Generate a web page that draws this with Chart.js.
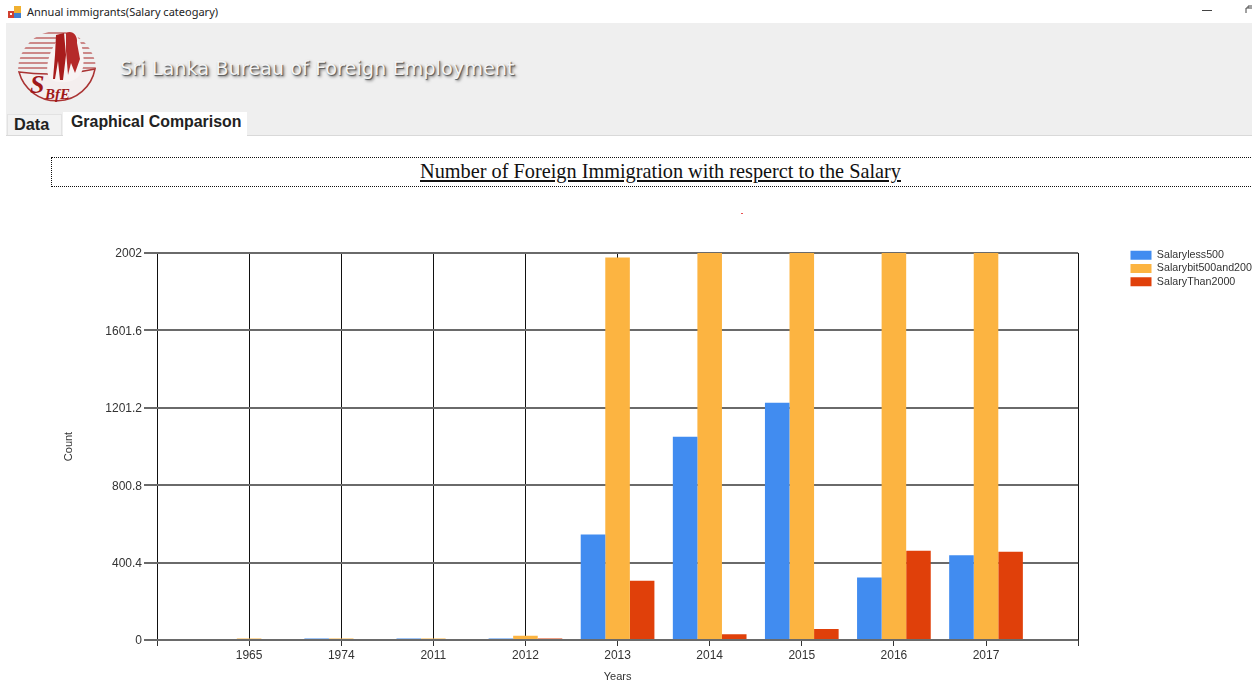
<!DOCTYPE html>
<html>
<head>
<meta charset="utf-8">
<title>Annual immigrants(Salary cateogary)</title>
<script src="https://cdn.jsdelivr.net/npm/chart.js@4/dist/chart.umd.min.js"></script>
<style>
html,body{margin:0;padding:0;background:#fff;overflow:hidden;width:1259px;height:686px}
#app{position:absolute;left:0;top:0;width:1252px;height:686px;overflow:hidden;background:#fff}
.abs{position:absolute;white-space:nowrap}
#band{left:6px;top:23px;width:1246px;height:112px;background:#efefef;border-bottom:1px solid #d9d9d9}
#appTitle{left:27px;top:4px;font:11px/16px "Noto Sans",sans-serif;color:#222}
#org{left:120px;top:56px;font:19.3px/26px "DejaVu Sans",sans-serif;color:#f4f4f4;text-shadow:1px 1px 1px #555,2px 2px 3px #777}
#tabData{left:7px;top:114px;width:55px;height:21px;background:#f2f2f2;border:1px solid #e2e2e2;border-bottom:none;box-sizing:border-box;font:bold 16.3px/18px "Liberation Sans",sans-serif;color:#222;padding-left:6px}
#tabGraph{left:63px;top:112px;width:184px;height:24px;background:#fff;font:bold 15.9px/20px "Liberation Sans",sans-serif;color:#222;padding-left:8px;box-sizing:border-box}
#heading{left:51px;top:157px;width:1210px;height:30px;box-sizing:border-box;border:1px dotted #111;text-align:center;font:20.3px/26px "Liberation Serif",serif;color:#111}
#heading span{text-decoration:underline;position:absolute;left:368px}
#reddot{left:741px;top:213px;width:2px;height:1px;background:#e85050}
#wrap{left:0;top:195px;width:1252px;height:491px}
</style>
</head>
<body>
<div id="app">
  <svg class="abs" style="left:8px;top:6px" width="13" height="13" viewBox="0 0 13 13">
    <rect x="0" y="5" width="6" height="7" fill="#d04030"/><rect x="6" y="0" width="7" height="7" fill="#f0b030"/><rect x="6" y="7" width="7" height="5" fill="#4080d0"/><rect x="2" y="7" width="2" height="2" fill="#fff"/>
  </svg>
  <div class="abs" id="appTitle">Annual immigrants(Salary cateogary)</div>
  <svg class="abs" style="left:1200px;top:4px" width="52" height="14" viewBox="0 0 52 14">
    <rect x="2" y="6" width="10" height="1" fill="#444"/>
    <path d="M46 9V4H52M48 4V2H52" fill="none" stroke="#444"/>
  </svg>
  <div class="abs" id="band"></div>
  <svg class="abs" style="left:14px;top:27px" width="88" height="86" viewBox="0 0 88 86">
    <defs><clipPath id="c"><circle cx="43" cy="43" r="39"/></clipPath></defs>
    <g clip-path="url(#c)" stroke="#c88" stroke-width="2">
      <path d="M0 6H88M0 11H88M0 16H88M0 21H88M0 26H88M0 31H88M0 36H88M0 41H88"/>
    </g>
    <path d="M5 45Q43 50 81 42A39 39 0 0 1 5 45Z" fill="#f4eeee" stroke="#a33" stroke-width="1.5"/>
    <path d="M44 12C34 26 30 44 36 52C46 58 64 56 68 44C72 32 68 12 60 6Z" fill="#f8f3f3"/>
    <path d="M42 8L50 6L52 28L49 53H46L44 34L41 52H39L41 28Z" fill="#a81c1c"/>
    <path d="M52 6C58 3 64 8 63 16L66 32L61 46L57 36L54 48L52 24Z" fill="#b52a2a"/>
    <text x="16" y="66" font-family="Liberation Serif,serif" font-style="italic" font-weight="bold" font-size="26" fill="#a01818">S</text>
    <text x="31" y="72" font-family="Liberation Serif,serif" font-style="italic" font-weight="bold" font-size="15" fill="#a01818">BfE</text>
  </svg>
  <div class="abs" id="org">Sri Lanka Bureau of Foreign Employment</div>
  <div class="abs" id="tabData">Data</div>
  <div class="abs" id="tabGraph">Graphical Comparison</div>
  <div class="abs" id="heading"><span>Number of Foreign Immigration with resperct to the Salary</span></div>
  <div class="abs" id="reddot"></div>
  <div class="abs" id="wrap"><canvas id="chart" width="1252" height="491"></canvas></div>
</div>
<script>
const years = ['1965','1974','2011','2012','2013','2014','2015','2016','2017'];
const salaryLess500 = [0,8,8,8,546,1051,1227,323,439];
const salaryBit500And2000 = [8,8,8,22,1979,2002,2002,2002,2002];
const salaryThan2000 = [0,0,0,8,307,30,57,462,457];
const yTicks = [0,400.4,800.8,1201.2,1601.6,2002];
const seriesNames = ['Salaryless500','Salarybit500and2000','SalaryThan2000'];
const seriesColors = ['#418cf0','#fcb441','#e0400a'];

const pad = a => [null, ...a, null];
const fontName = '"Liberation Sans", Arial, sans-serif';

const placeLegend = {
  id: 'placeLegend',
  afterLayout(chart) {
    const l = chart.legend;
    const w = l.width, h = l.height;
    l.left = 1128; l.right = l.left + w;
    l.top = 52.5; l.bottom = l.top + h;
  }
};

new Chart(document.getElementById('chart'), {
  type: 'bar',
  plugins: [placeLegend],
  data: {
    labels: ['', ...years, ''],
    datasets: [salaryLess500, salaryBit500And2000, salaryThan2000].map((d, i) => ({
      label: seriesNames[i],
      data: pad(d),
      backgroundColor: seriesColors[i],
      borderWidth: 0,
      barPercentage: 1,
      categoryPercentage: 0.8
    }))
  },
  options: {
    responsive: false,
    animation: false,
    layout: { padding: { left: 62, right: 34, top: 58, bottom: 2 } },
    plugins: {
      tooltip: { enabled: false },
      legend: {
        position: 'right',
        align: 'start',
        labels: {
          boxWidth: 21, boxHeight: 9, padding: 2.5,
          color: '#333',
          font: { family: fontName, size: 10.7 }
        }
      }
    },
    scales: {
      x: {
        offset: false,
        afterFit(s) { s.height = 44; },
        grid: { offset: false, color: '#111', lineWidth: 1, tickLength: 6, tickColor: '#333' },
        border: { display: false },
        ticks: { autoSkip: false, maxRotation: 0, padding: 2, color: '#333', font: { family: fontName, size: 12 } },
        title: { display: true, text: 'Years', color: '#333', padding: 0, font: { family: fontName, size: 11 } }
      },
      y: {
        min: 0,
        max: 2002,
        afterBuildTicks(s) { s.ticks = yTicks.map(v => ({ value: v })); },
        afterFit(s) { s.width = 95; },
        grid: { color: '#6a6a6a', lineWidth: 2, tickLength: 13, tickColor: '#6a6a6a' },
        border: { display: false },
        ticks: { padding: 2, labelOffset: 1, color: '#333', font: { family: fontName, size: 12 }, callback: v => String(v) },
        title: { display: true, text: 'Count', color: '#333', padding: 0, font: { family: fontName, size: 11 } }
      }
    }
  }
});
</script>
</body>
</html>
